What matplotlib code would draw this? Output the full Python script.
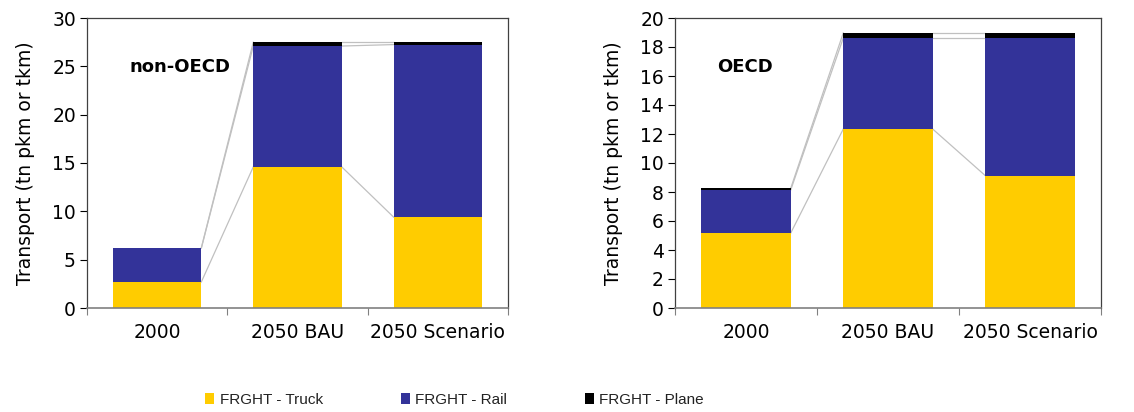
import matplotlib
matplotlib.use("Agg")
import matplotlib.pyplot as plt
import numpy as np
from matplotlib.patches import Patch

categories = ["2000", "2050 BAU", "2050 Scenario"]

nonoecd_truck = [2.7, 14.6, 9.4]
nonoecd_rail = [3.5, 12.5, 17.85]
nonoecd_plane = [0.05, 0.4, 0.25]

oecd_truck = [5.17, 12.34, 9.13]
oecd_rail = [2.97, 6.28, 9.49]
oecd_plane = [0.12, 0.35, 0.35]

series_names = ["FRGHT - Truck", "FRGHT - Rail", "FRGHT - Plane"]
colors = ["#FFCC00", "#333399", "#000000"]

fig = plt.figure(figsize=(11.34, 4.12), dpi=100)
ax1 = fig.add_axes([87/1134, 1-308/412, 421/1134, 290/412])
ax2 = fig.add_axes([675/1134, 1-308/412, 426/1134, 290/412])

W = 0.63
FS = 13.5

def draw(ax, series, ymax, yticks, label):
    x = np.arange(len(categories))
    bottom = np.zeros(len(categories))
    tops = []
    for vals, c in zip(series, colors):
        vals = np.array(vals)
        ax.bar(x, vals, W, bottom=bottom, color=c, edgecolor="none", zorder=2)
        bottom = bottom + vals
        tops.append(bottom.copy())
    for t in tops:
        for i in range(len(categories) - 1):
            ax.plot([x[i] + W/2, x[i+1] - W/2], [t[i], t[i+1]], color="#C0C0C0", lw=0.9, zorder=1)
    ax.set_xlim(-0.5, len(categories) - 0.5)
    ax.set_ylim(0, ymax)
    ax.set_yticks(yticks)
    ax.set_xticks(np.arange(-0.5, len(categories), 1.0), minor=False)
    ax.set_xticklabels([])
    ax.set_xticks(x, minor=True)
    ax.set_xticklabels(categories, minor=True, fontsize=FS)
    ax.tick_params(axis="x", which="minor", length=0, pad=11)
    ax.tick_params(axis="x", which="major", length=5, color="#808080", direction="out")
    ax.tick_params(axis="y", labelsize=FS, length=5, direction="out", pad=3)
    ax.set_ylabel("Transport (tn pkm or tkm)", fontsize=FS, labelpad=12)
    for s in ["top", "right", "left"]:
        ax.spines[s].set_color("#404040")
        ax.spines[s].set_linewidth(0.9)
    ax.spines["bottom"].set_color("#808080")
    ax.spines["bottom"].set_linewidth(1.2)
    ax.text(0.10, 0.83, label, transform=ax.transAxes, fontsize=13, fontweight="bold",
            va="center", ha="left")

draw(ax1, [nonoecd_truck, nonoecd_rail, nonoecd_plane], 30, range(0, 31, 5), "non-OECD")
draw(ax2, [oecd_truck, oecd_rail, oecd_plane], 20, range(0, 21, 2), "OECD")

handles = [Patch(facecolor=c, edgecolor="none") for c in colors]
leg = fig.legend(handles, series_names, loc="center left", bbox_to_anchor=(205/1134, 1-400/412), ncol=3,
                 frameon=False, prop={"family": "Liberation Sans", "size": 11}, handlelength=0.6,
                 handleheight=0.7, handletextpad=0.35, columnspacing=5.1, borderaxespad=0, borderpad=0)
for t in leg.get_texts():
    t.set_color("#222222")

fig.savefig("out.png", dpi=100)
